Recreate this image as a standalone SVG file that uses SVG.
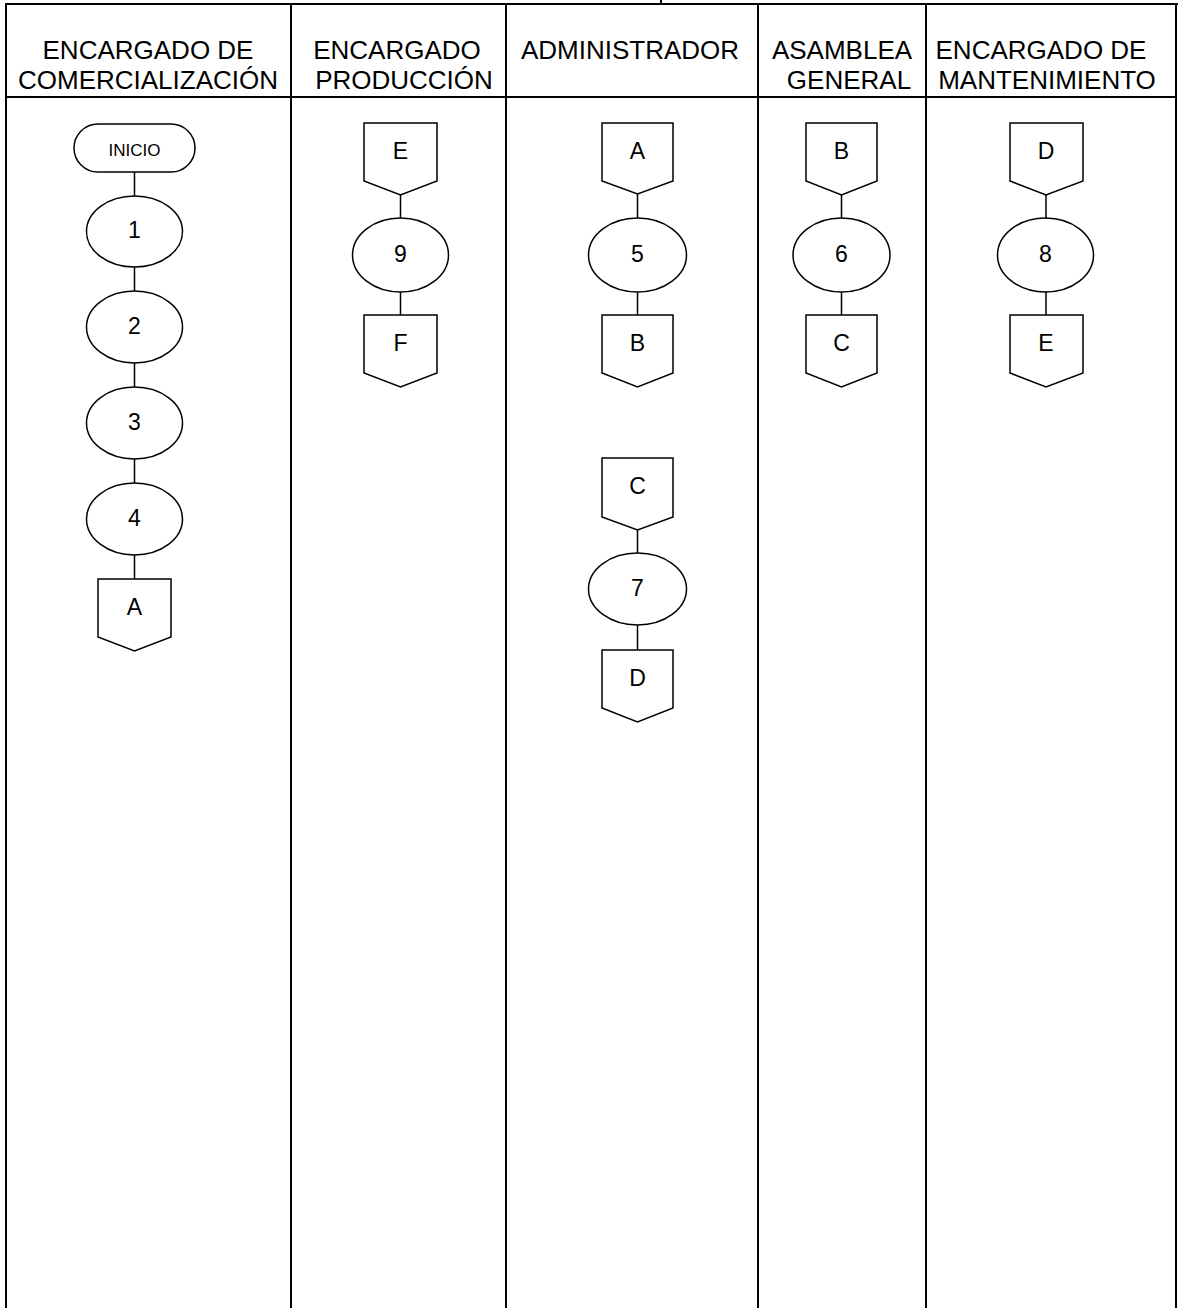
<svg xmlns="http://www.w3.org/2000/svg" width="1178" height="1308" viewBox="0 0 1178 1308">
<style>
.frame{stroke:#000;stroke-width:2;fill:none}
.shape{stroke:#000;stroke-width:1.5;fill:#fff}
.link{stroke:#000;stroke-width:1.5;fill:none}
.hdr{font-family:"Liberation Sans",Arial,sans-serif;font-size:26px;fill:#000;text-anchor:middle}
.lbl{font-family:"Liberation Sans",Arial,sans-serif;font-size:23px;fill:#000;text-anchor:middle}
.small{font-family:"Liberation Sans",Arial,sans-serif;font-size:17px;fill:#000;text-anchor:middle}
</style>
<rect width="1178" height="1308" fill="#fff"/>
<g id="table">
<line class="frame" x1="5" y1="4" x2="1178" y2="4"/>
<line class="frame" x1="661" y1="0" x2="661" y2="4"/>
<line class="frame" x1="6" y1="4" x2="6" y2="1308"/>
<line class="frame" x1="291" y1="4" x2="291" y2="1308"/>
<line class="frame" x1="506" y1="4" x2="506" y2="1308"/>
<line class="frame" x1="758" y1="4" x2="758" y2="1308"/>
<line class="frame" x1="926" y1="4" x2="926" y2="1308"/>
<line class="frame" x1="1176" y1="4" x2="1176" y2="1308"/>
<line class="frame" x1="6" y1="97" x2="1176" y2="97"/>
</g>
<g id="headers">
<text class="hdr" x="148" y="59">ENCARGADO DE</text>
<text class="hdr" x="148" y="89">COMERCIALIZACIÓN</text>
<text class="hdr" x="397" y="59">ENCARGADO</text>
<text class="hdr" x="404" y="89">PRODUCCIÓN</text>
<text class="hdr" x="630" y="59">ADMINISTRADOR</text>
<text class="hdr" x="842" y="59">ASAMBLEA</text>
<text class="hdr" x="849" y="89">GENERAL</text>
<text class="hdr" x="1041" y="59">ENCARGADO DE</text>
<text class="hdr" x="1047" y="89">MANTENIMIENTO</text>
</g>
<g id="connectors">
<line class="link" x1="134.5" y1="172" x2="134.5" y2="196"/>
<line class="link" x1="134.5" y1="267" x2="134.5" y2="291"/>
<line class="link" x1="134.5" y1="363" x2="134.5" y2="387"/>
<line class="link" x1="134.5" y1="459" x2="134.5" y2="483"/>
<line class="link" x1="134.5" y1="555" x2="134.5" y2="579"/>
<line class="link" x1="400.5" y1="195" x2="400.5" y2="218"/>
<line class="link" x1="400.5" y1="292" x2="400.5" y2="315"/>
<line class="link" x1="637.5" y1="194" x2="637.5" y2="218"/>
<line class="link" x1="637.5" y1="292" x2="637.5" y2="315"/>
<line class="link" x1="637.5" y1="530" x2="637.5" y2="553"/>
<line class="link" x1="637.5" y1="625" x2="637.5" y2="650"/>
<line class="link" x1="841.5" y1="195" x2="841.5" y2="218"/>
<line class="link" x1="841.5" y1="292" x2="841.5" y2="315"/>
<line class="link" x1="1046" y1="195" x2="1046" y2="218"/>
<line class="link" x1="1046" y1="292" x2="1046" y2="315"/>
</g>
<g id="inicio"><rect class="shape" x="74" y="124" width="121" height="48" rx="24" ry="24"/><text class="small" x="134.5" y="156">INICIO</text></g>
<g id="p1"><ellipse class="shape" cx="134.5" cy="231.5" rx="48" ry="35.5"/><text class="lbl" x="134.5" y="238">1</text></g>
<g id="p2"><ellipse class="shape" cx="134.5" cy="327" rx="48" ry="36"/><text class="lbl" x="134.5" y="334">2</text></g>
<g id="p3"><ellipse class="shape" cx="134.5" cy="423" rx="48" ry="36"/><text class="lbl" x="134.5" y="430">3</text></g>
<g id="p4"><ellipse class="shape" cx="134.5" cy="519" rx="48" ry="36"/><text class="lbl" x="134.5" y="526">4</text></g>
<g id="offA1"><polygon class="shape" points="98,579 171,579 171,637 134.5,651 98,637"/><text class="lbl" x="134.5" y="615">A</text></g>
<g id="offE2"><polygon class="shape" points="364,123 437,123 437,181 400.5,195 364,181"/><text class="lbl" x="400.5" y="159">E</text></g>
<g id="p9"><ellipse class="shape" cx="400.5" cy="255" rx="48" ry="37"/><text class="lbl" x="400.5" y="262">9</text></g>
<g id="offF2"><polygon class="shape" points="364,315 437,315 437,373 400.5,387 364,373"/><text class="lbl" x="400.5" y="351">F</text></g>
<g id="offA3"><polygon class="shape" points="602,123 673,123 673,181 637.5,194 602,181"/><text class="lbl" x="637.5" y="159">A</text></g>
<g id="p5"><ellipse class="shape" cx="637.5" cy="255" rx="49" ry="37"/><text class="lbl" x="637.5" y="262">5</text></g>
<g id="offB3"><polygon class="shape" points="602,315 673,315 673,373 637.5,387 602,373"/><text class="lbl" x="637.5" y="351">B</text></g>
<g id="offC3"><polygon class="shape" points="602,458 673,458 673,517 637.5,530 602,517"/><text class="lbl" x="637.5" y="494">C</text></g>
<g id="p7"><ellipse class="shape" cx="637.5" cy="589" rx="49" ry="36"/><text class="lbl" x="637.5" y="596">7</text></g>
<g id="offD3"><polygon class="shape" points="602,650 673,650 673,708 637.5,722 602,708"/><text class="lbl" x="637.5" y="686">D</text></g>
<g id="offB4"><polygon class="shape" points="806,123 877,123 877,181 841.5,195 806,181"/><text class="lbl" x="841.5" y="159">B</text></g>
<g id="p6"><ellipse class="shape" cx="841.5" cy="255" rx="48.5" ry="37"/><text class="lbl" x="841.5" y="262">6</text></g>
<g id="offC4"><polygon class="shape" points="806,315 877,315 877,373 841.5,387 806,373"/><text class="lbl" x="841.5" y="351">C</text></g>
<g id="offD5"><polygon class="shape" points="1010,123 1083,123 1083,181 1046,195 1010,181"/><text class="lbl" x="1046" y="159">D</text></g>
<g id="p8"><ellipse class="shape" cx="1045.5" cy="255" rx="48" ry="37"/><text class="lbl" x="1045.5" y="262">8</text></g>
<g id="offE5"><polygon class="shape" points="1010,315 1083,315 1083,373 1046,387 1010,373"/><text class="lbl" x="1046" y="351">E</text></g>
</svg>
